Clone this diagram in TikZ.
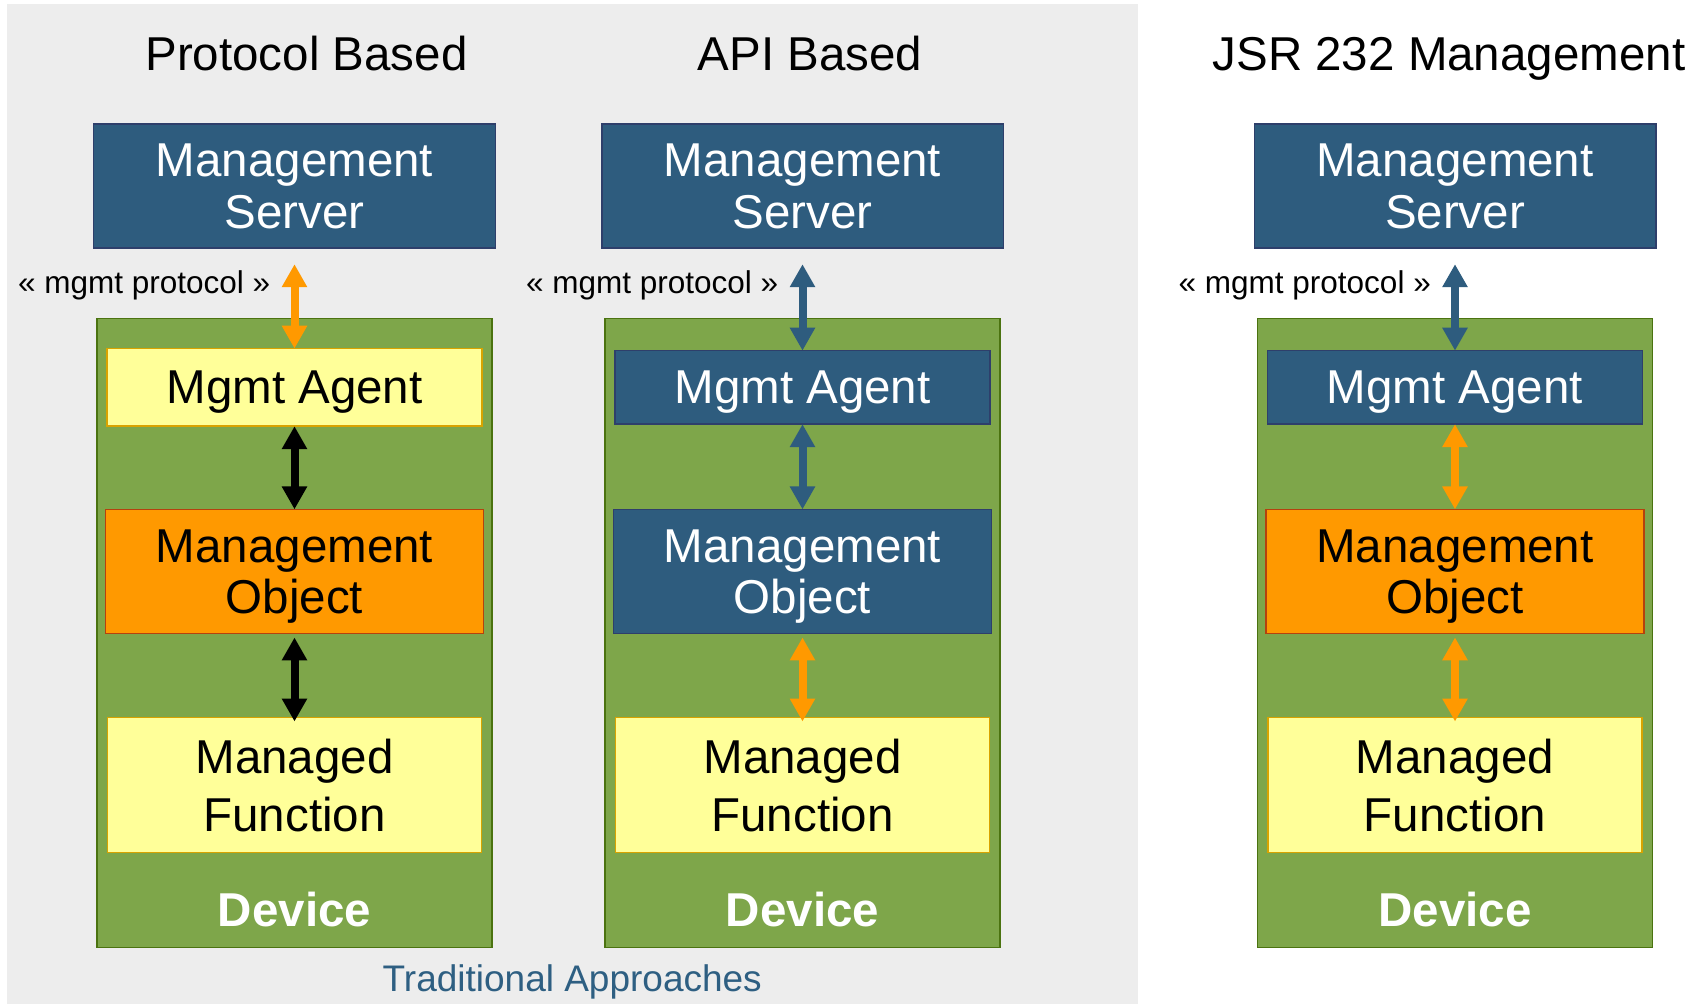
\documentclass[tikz,border=0pt]{standalone}
\usepackage{fontspec}
\setmainfont{Liberation Sans}
\usetikzlibrary{arrows.meta}

\definecolor{panelgray}{HTML}{EDEDED}
\definecolor{navy}{HTML}{2E5C7E}
\definecolor{navyedge}{HTML}{2E3F6B}
\definecolor{devgreen}{HTML}{7EA64A}
\definecolor{devedge}{HTML}{4B7310}
\definecolor{paleyellow}{HTML}{FFFF99}
\definecolor{goldedge}{HTML}{D9A300}
\definecolor{mgmtorange}{HTML}{FF9900}
\definecolor{orangeedge}{HTML}{B5420E}
\definecolor{captionblue}{HTML}{2E5F82}

\tikzset{
  boxtext/.style={font=\fontsize{47.5bp}{52bp}\selectfont},
  basebox/.style={inner sep=0pt, outer sep=0pt, align=center, line width=1.5bp, boxtext},
  navybox/.style={basebox, draw=navyedge, fill=navy, text=white},
  yellowbox/.style={basebox, draw=goldedge, fill=paleyellow, text=black},
  orangebox/.style={basebox, draw=orangeedge, fill=mgmtorange, text=black},
  devicebox/.style={draw=devedge, fill=devgreen, line width=1.5bp, inner sep=0pt, outer sep=0pt,
                    minimum width=395bp, minimum height=629bp},
  serversize/.style={minimum width=401.5bp, minimum height=124bp},
  agentsize/.style={minimum width=375bp, text depth=0pt},
  objectsize/.style={minimum width=378bp, minimum height=124bp, text depth=0pt,
                     font=\fontsize{47.5bp}{51bp}\selectfont},
  functionsize/.style={minimum width=374bp, minimum height=135bp, text depth=-7bp,
                       font=\fontsize{47.5bp}{58bp}\selectfont},
  title/.style={anchor=base, inner sep=0pt, font=\fontsize{47.5bp}{52bp}\selectfont},
  protolabel/.style={anchor=base east, inner sep=0pt, font=\fontsize{31.5bp}{34bp}\selectfont},
  devlabel/.style={anchor=base, inner sep=0pt, text=white, font=\fontsize{47.5bp}{52bp}\selectfont\bfseries},
  link/.style={line width=8bp, {Triangle[width=24bp,length=23bp]}-{Triangle[width=24bp,length=23bp]}},
}

\begin{document}
\begin{tikzpicture}[x=1bp, y=-1bp]
  % page and the grey panel behind the two traditional approaches
  \useasboundingbox (0,0) rectangle (1692,1004);
  \fill[white] (0,0) rectangle (1692,1004);
  \fill[panelgray] (6.5,4) rectangle (1137.7,1004);

  % column headings
  \node[title] (t1) at (306.5,70) {Protocol Based};
  \node[title] (t2) at (810,70) {API Based};
  \node[title] (t3) at (1449,70) {JSR 232 Management};

  % ---- Protocol based ----
  \node[navybox, serversize] (srv1) at (294.5,186.2) {Management\\Server};
  \node[devicebox] (dev1) at (294.5,632.9) {};
  \node[yellowbox, agentsize, minimum height=77.5bp] (agt1) at (294.5,387.4) {Mgmt Agent};
  \node[orangebox, objectsize] (obj1) at (294.5,571.4) {Management\\Object};
  \node[yellowbox, functionsize] (fun1) at (294.5,785) {Managed\\Function};
  \node[devlabel] (dl1) at (294.5,926.7) {Device};
  \node[protolabel] (pl1) at (270.5,293) {« mgmt protocol »};
  \draw[link, mgmtorange, shorten <=16bp] (srv1.south) -- (agt1.north);
  \draw[link, black] (agt1.south) -- (obj1.north);
  \draw[link, black, shorten <=4bp, shorten >=-4bp] (obj1.south) -- (fun1.north);

  % ---- API based ----
  \node[navybox, serversize] (srv2) at (802.5,186.2) {Management\\Server};
  \node[devicebox] (dev2) at (802.5,632.9) {};
  \node[navybox, agentsize, minimum height=73.5bp] (agt2) at (802.5,387.4) {Mgmt Agent};
  \node[navybox, objectsize] (obj2) at (802.5,571.4) {Management\\Object};
  \node[yellowbox, functionsize] (fun2) at (802.5,785) {Managed\\Function};
  \node[devlabel] (dl2) at (802.5,926.7) {Device};
  \node[protolabel] (pl2) at (778.5,293) {« mgmt protocol »};
  \draw[link, navy, shorten <=16bp] (srv2.south) -- (agt2.north);
  \draw[link, navy] (agt2.south) -- (obj2.north);
  \draw[link, mgmtorange, shorten <=4bp, shorten >=-4bp] (obj2.south) -- (fun2.north);

  % ---- JSR 232 ----
  \node[navybox, serversize] (srv3) at (1455,186.2) {Management\\Server};
  \node[devicebox] (dev3) at (1455,632.9) {};
  \node[navybox, agentsize, minimum height=73.5bp] (agt3) at (1455,387.4) {Mgmt Agent};
  \node[orangebox, objectsize] (obj3) at (1455,571.4) {Management\\Object};
  \node[yellowbox, functionsize] (fun3) at (1455,785) {Managed\\Function};
  \node[devlabel] (dl3) at (1455,926.7) {Device};
  \node[protolabel] (pl3) at (1431,293) {« mgmt protocol »};
  \draw[link, navy, shorten <=16bp] (srv3.south) -- (agt3.north);
  \draw[link, mgmtorange] (agt3.south) -- (obj3.north);
  \draw[link, mgmtorange, shorten <=4bp, shorten >=-4bp] (obj3.south) -- (fun3.north);

  % caption of the grey panel
  \node[anchor=base west, inner sep=0pt, text=captionblue, font=\fontsize{37bp}{40bp}\selectfont]
    (cap) at (382.5,991.7) {Traditional Approaches};
\end{tikzpicture}
\end{document}
